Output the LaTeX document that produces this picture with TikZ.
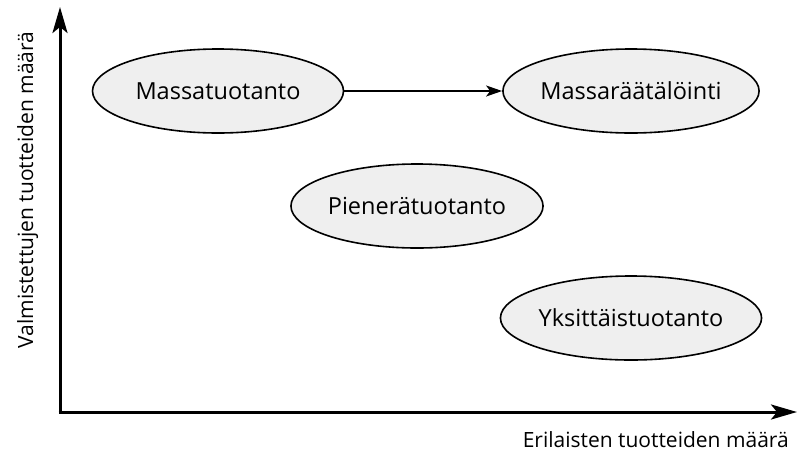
\documentclass[tikz,border=0pt]{standalone}
\usepackage{fontspec}
\setmainfont{Open Sans}
\usetikzlibrary{shapes.geometric,arrows.meta}

\definecolor{nodefill}{HTML}{EFEFEF}

\tikzset{
  blob/.style={ellipse, draw=black, line width=1.6pt, fill=nodefill,
    minimum width=251pt, minimum height=84pt, inner sep=0pt,
    font=\fontsize{23.5}{27}\selectfont},
  axisline/.style={line width=3pt, -{Stealth[length=26pt,width=15pt,inset=6pt]}},
  flow/.style={line width=1.6pt, -{Stealth[length=16pt,width=11pt,inset=4pt]}},
  axislabel/.style={font=\fontsize{21}{25}\selectfont, inner sep=0pt}
}

\begin{document}
\begin{tikzpicture}[x=1pt,y=-1pt]
  \useasboundingbox (0,0) rectangle (797,461);

  % axes
  \coordinate (origin) at (60,412);
  \coordinate (ytip) at (60,7);
  \coordinate (xtip) at (797,412);
  \draw[axisline] ([yshift=-1.5pt]origin) -- (ytip);
  \draw[axisline] ([xshift=-1.5pt]origin) -- (xtip);

  % axis labels
  \node[axislabel, rotate=90, anchor=base] (ylab) at (33,190)
    {Valmistettujen tuotteiden määrä};
  \node[axislabel, anchor=base east] (xlab) at (789,447)
    {Erilaisten tuotteiden määrä};

  % production types
  \node[blob] (mass) at (218,91) {Massatuotanto};
  \node[blob] (custom) at (631,91) {Massaräätälöinti};
  \node[blob] (small) at (417,206) {Pienerätuotanto};
  \node[blob] (single) at (631,318) {Yksittäistuotanto};

  \draw[flow] (mass.east) -- (custom.west);
\end{tikzpicture}
\end{document}
